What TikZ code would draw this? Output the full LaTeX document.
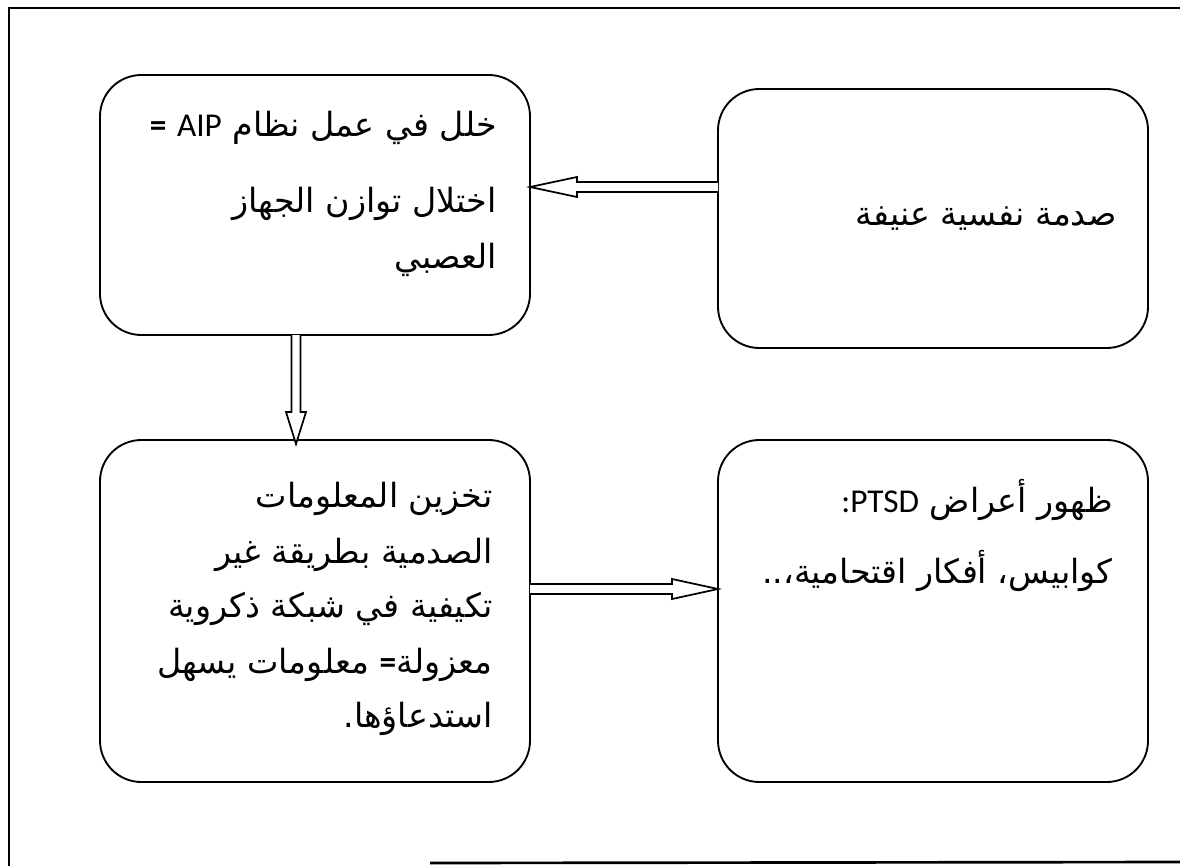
\documentclass[tikz,border=0pt]{standalone}
\usepackage{fontspec}
\TeXXeTstate=1
\newfontfamily\arabicfont[Script=Arabic]{DejaVu Sans}
\newfontfamily\latinfont{Carlito}
\newcommand{\lat}[1]{{\latinfont\fontsize{25}{30}\selectfont #1}}
\usetikzlibrary{calc}

\begin{document}
\begin{tikzpicture}[x=0.75pt,y=-0.75pt,
  stage/.style={draw, line width=1.4pt, rounded corners=31pt, inner sep=0pt, outer sep=0pt},
  hollowarrow/.style={draw, line width=1.3pt, line join=miter, fill=white},
  txt/.style={anchor=base east, inner sep=0pt, font=\arabicfont\fontsize{25}{30}\selectfont},
  frameline/.style={line width=2pt}]
\useasboundingbox (0,0) rectangle (1180,866);

% outer frame
\draw[frameline] (9,866) -- (9,8) -- (1180,8);
\draw[frameline] (430,863) -- (1180,862);

% the four stages
\node[stage, minimum width=322.5pt, minimum height=195pt] (A) at (315,205) {};
\node[stage, minimum width=322.5pt, minimum height=194.25pt] (B) at (933,218.5) {};
\node[stage, minimum width=322.5pt, minimum height=256.5pt] (C) at (315,611) {};
\node[stage, minimum width=322.5pt, minimum height=256.5pt] (D) at (933,611) {};

% arrow axes
\coordinate (ay) at (0,187);
\coordinate (ax) at (296,0);
\coordinate (by) at (0,589);

% B -> A
\draw[hollowarrow] ($(B.west|-ay)+(0,-5)$) -- ($(A.east|-ay)+(47,-5)$) -- ($(A.east|-ay)+(47,-10)$)
  -- (A.east|-ay) -- ($(A.east|-ay)+(47,10)$) -- ($(A.east|-ay)+(47,5)$) -- ($(B.west|-ay)+(0,5)$);
% A -> C
\draw[hollowarrow] ($(A.south-|ax)+(-4.5,0)$) -- ($(C.north-|ax)+(-4.5,-28)$) -- ($(C.north-|ax)+(-10,-28)$)
  -- ($(C.north-|ax)+(0,4)$) -- ($(C.north-|ax)+(10,-28)$) -- ($(C.north-|ax)+(4.5,-28)$) -- ($(A.south-|ax)+(4.5,0)$);
% C -> D
\draw[hollowarrow] ($(C.east|-by)+(0,-5)$) -- ($(D.west|-by)+(-46,-5)$) -- ($(D.west|-by)+(-46,-10)$)
  -- (D.west|-by) -- ($(D.west|-by)+(-46,10)$) -- ($(D.west|-by)+(-46,5)$) -- ($(C.east|-by)+(0,5)$);

% texts
\node[txt] (a1) at (497,137) {\beginR خلل في عمل نظام \beginL\lat{AIP}\endL{} \lat{\textbf{=}}\endR};
\node[txt] (a2) at (497,213) {\beginR اختلال توازن الجهاز\endR};
\node[txt] (a3) at (497,268) {\beginR العصبي\endR};

\node[txt] (b1) at (1117,225) {\beginR صدمة نفسية عنيفة\endR};

\node[txt] (c1) at (493,507) {\beginR تخزين المعلومات\endR};
\node[txt] (c2) at (493,563) {\beginR الصدمية بطريقة غير\endR};
\node[txt] (c3) at (493,617) {\beginR تكيفية في شبكة ذكروية\endR};
\node[txt] (c4) at (493,673) {\beginR معزولة\lat{\textbf{=}} معلومات يسهل\endR};
\node[txt] (c5) at (493,727) {\beginR استدعاؤها.\endR};

\node[txt] (d1) at (1113,512) {\beginR ظهور أعراض \beginL\lat{PTSD}\endL\lat{:}\endR};
\node[txt] (d2) at (1113,583) {\beginR كوابيس، أفكار اقتحامية،..\endR};
\end{tikzpicture}
\end{document}
